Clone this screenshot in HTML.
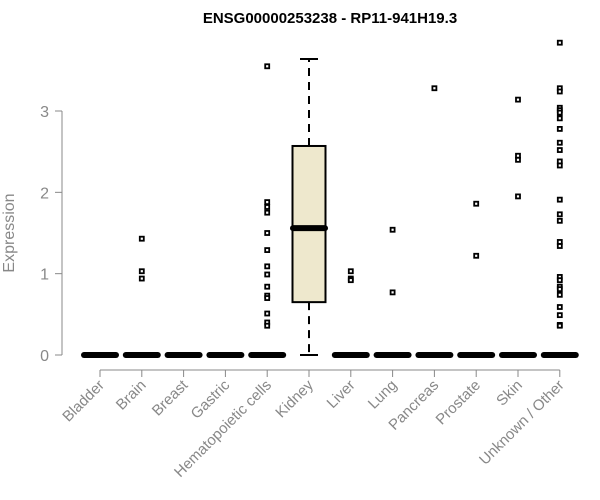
<!DOCTYPE html>
<html><head><meta charset="utf-8"><style>body{margin:0;background:#fff}svg{display:block}</style></head>
<body>
<svg id="chart" width="600" height="500" xmlns="http://www.w3.org/2000/svg" font-family="Liberation Sans, sans-serif">
<text x="330" y="23" text-anchor="middle" font-weight="bold" font-size="15">ENSG00000253238 - RP11-941H19.3</text>
<g id="yaxis"></g>
<g id="xaxis"></g>
<g id="marks"></g>
<text transform="translate(14,233) rotate(-90)" text-anchor="middle" font-size="16" fill="#888">Expression</text>
</svg>
<script>
const categories = ["Bladder","Brain","Breast","Gastric","Hematopoietic cells","Kidney","Liver","Lung","Pancreas","Prostate","Skin","Unknown / Other"];
const yTicks = [0,1,2,3];
// box stats: [lowerWhisker, q1, median, q3, upperWhisker]
const boxStats = [
 [0,0,0,0,0],[0,0,0,0,0],[0,0,0,0,0],[0,0,0,0,0],[0,0,0,0,0],
 [0,0.65,1.56,2.57,3.64],
 [0,0,0,0,0],[0,0,0,0,0],[0,0,0,0,0],[0,0,0,0,0],[0,0,0,0,0],[0,0,0,0,0]
];
const outliers = [
 [],
 [1.43,1.03,0.94],
 [],
 [],
 [3.55,1.88,1.82,1.75,1.50,1.29,1.09,0.99,0.84,0.73,0.70,0.51,0.40,0.36],
 [],
 [1.03,0.94,0.92],
 [1.54,0.77],
 [3.28],
 [1.86,1.22],
 [3.14,2.45,2.40,1.95],
 [3.84,3.28,3.24,3.04,3.01,2.98,2.91,2.78,2.61,2.52,2.38,2.33,1.91,1.73,1.65,1.39,1.34,0.96,0.92,0.84,0.81,0.74,0.59,0.49,0.37,0.36]
];
const NS="http://www.w3.org/2000/svg";
const y0=355, yUnit=81.33, x0=100, xStep=41.8;
const yScale=v=>y0-v*yUnit;
const xScale=i=>x0+i*xStep;
function mk(parent,tag,attrs){const e=document.createElementNS(NS,tag);for(const k in attrs)e.setAttribute(k,attrs[k]);parent.appendChild(e);return e;}
const ya=document.getElementById('yaxis'), xa=document.getElementById('xaxis'), m=document.getElementById('marks');
let l=mk(ya,'line',{x1:62,x2:62,y1:yScale(3),y2:yScale(0),stroke:'#888'});


yTicks.forEach(t=>{
 const tk=mk(ya,'line',{x1:55,x2:62,y1:yScale(t),y2:yScale(t),stroke:'#888'});
 
 
 const tx=mk(ya,'text',{x:49,y:yScale(t)+6,'text-anchor':'end','font-size':16,fill:'#888'});
 
 
 tx.textContent=t;
});
l=mk(xa,'line',{x1:xScale(0),x2:xScale(categories.length-1),y1:370,y2:370,stroke:'#888'});


categories.forEach((c,i)=>{
 const x=xScale(i);
 const tk=mk(xa,'line',{x1:x,x2:x,y1:370,y2:377,stroke:'#888'});
 
 
 const tx=mk(xa,'text',{transform:`translate(${x+5},${386}) rotate(-45)`,'text-anchor':'end','font-size':15,fill:'#888'});
 
 
 tx.textContent=c;
});
boxStats.forEach((s,i)=>{
 const x=xScale(i), g=mk(m,'g',{});
 
 
 if(s[4]>s[0]){
  mk(g,'line',{x1:x,x2:x,y1:yScale(s[3]),y2:yScale(s[4]),stroke:'#000','stroke-width':2,'stroke-dasharray':'8,6'});
  mk(g,'line',{x1:x,x2:x,y1:yScale(s[1]),y2:yScale(s[0]),stroke:'#000','stroke-width':2,'stroke-dasharray':'8,6'});
  mk(g,'line',{x1:x-9,x2:x+9,y1:yScale(s[4]),y2:yScale(s[4]),stroke:'#000','stroke-width':2});
  mk(g,'line',{x1:x-9,x2:x+9,y1:yScale(s[0]),y2:yScale(s[0]),stroke:'#000','stroke-width':2});
  mk(g,'rect',{x:x-16.5,y:yScale(s[3]),width:33,height:yScale(s[1])-yScale(s[3]),fill:'#EEE8CD',stroke:'#000','stroke-width':2});
 }
 mk(g,'line',{x1:x-16,x2:x+16,y1:yScale(s[2]),y2:yScale(s[2]),stroke:'#000','stroke-width':6,'stroke-linecap':'round'});
 outliers[i].forEach(v=>{
  const p=mk(g,'rect',{x:x-2,y:yScale(v)-2,width:4,height:4,fill:'#fff',stroke:'#000','stroke-width':1.8});
  
  
 });
});
</script>
</body></html>
